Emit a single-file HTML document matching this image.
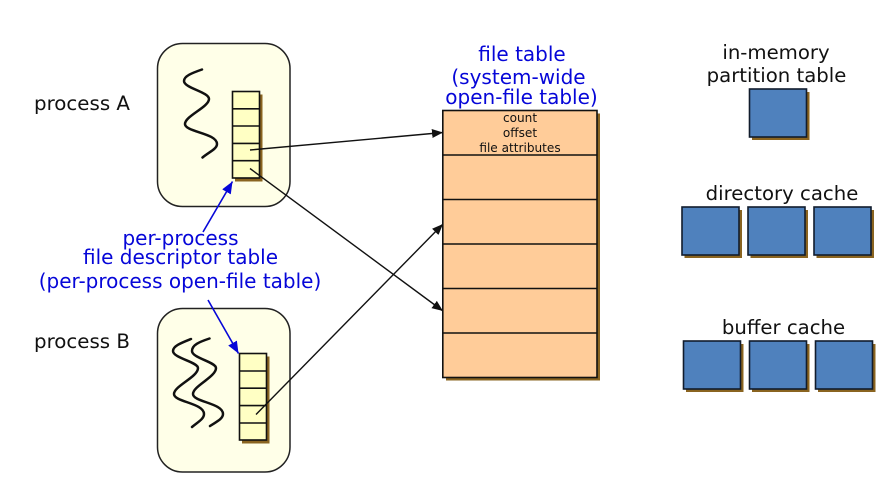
<!DOCTYPE html>
<html>
<head>
<meta charset="utf-8">
<style>
html,body{margin:0;padding:0;background:#fff;width:888px;height:490px;overflow:hidden}
svg{display:block}
text{font-family:"DejaVu Sans",sans-serif}
</style>
</head>
<body>
<svg width="888" height="490" viewBox="0 0 888 490" xmlns="http://www.w3.org/2000/svg">
<defs>
<marker id="ab" markerUnits="userSpaceOnUse" markerWidth="12" markerHeight="10" refX="11" refY="4.5" orient="auto"><path d="M0 0L11 4.5L0 9Z" fill="#111"/></marker>
<marker id="ablue" markerUnits="userSpaceOnUse" markerWidth="13" markerHeight="11" refX="12" refY="5" orient="auto"><path d="M0 0L12 5L0 10Z" fill="#0606d8"/></marker>
</defs>
<rect width="888" height="490" fill="#fff"/>

<!-- process boxes -->
<rect x="157.500" y="43.500" width="132.500" height="163" rx="25" fill="#ffffe8" stroke="#222" stroke-width="1.500"/>
<rect x="157.500" y="308.500" width="132.500" height="163.500" rx="25" fill="#ffffe8" stroke="#222" stroke-width="1.500"/>

<!-- squiggles -->
<g fill="none" stroke="#111" stroke-width="2.500" stroke-linecap="round">
<path d="M202 69.500C192 73 184 76 184 81C184 88 209 92 209 99C209 107 185 116 185 124C185 132 217 133 217 144C217 149 209 152 202.500 157.500"/>
<path d="M191 339C181 343 173 346 173 351C173 358 198 362 198 368C198 377 174 386 174 394C174 402 204 403 204 414C204 419 198 422 192 427"/>
<path d="M209.500 338.500C199 342 192 345 192 351C192 358 216 362 216 368C216 377 193 386 193 394C193 402 223 403 223 414C223 419 216 422 210 426"/>
</g>

<!-- descriptor table A -->
<rect x="235" y="94.500" width="27.500" height="87" fill="#8a6420"/>
<rect x="232.500" y="91.500" width="27" height="86.500" fill="#ffffc4" stroke="#111" stroke-width="1.600"/>
<path d="M232.500 108.800H259.500M232.500 126H259.500M232.500 143.400H259.500M232.500 160.700H259.500" stroke="#111" stroke-width="1.600"/>

<!-- descriptor table B -->
<rect x="242" y="356.500" width="27.500" height="87" fill="#8a6420"/>
<rect x="239.500" y="353.500" width="27" height="86.500" fill="#ffffc4" stroke="#111" stroke-width="1.600"/>
<path d="M239.500 371H266.500M239.500 388.200H266.500M239.500 405.600H266.500M239.500 423H266.500" stroke="#111" stroke-width="1.600"/>

<!-- file table -->
<rect x="446" y="113.500" width="154" height="267" fill="#8a6420"/>
<rect x="442.800" y="110.500" width="154.200" height="267" fill="#ffcc99" stroke="#111" stroke-width="1.600"/>
<path d="M442.800 155H597M442.800 199.500H597M442.800 244H597M442.800 288.500H597M442.800 333H597" stroke="#111" stroke-width="1.600"/>

<!-- blue squares -->
<g fill="#8a6420">
<rect x="752" y="92" width="57.500" height="48"/>
<rect x="684.500" y="210" width="57.500" height="48"/>
<rect x="750.500" y="210" width="57.500" height="48"/>
<rect x="816.500" y="210" width="57.500" height="48"/>
<rect x="686" y="344" width="57.500" height="48"/>
<rect x="752" y="344" width="57.500" height="48"/>
<rect x="818" y="344" width="57.500" height="48"/>
</g>
<g fill="#4f81bd" stroke="#111c2c" stroke-width="1.600">
<rect x="749.500" y="89" width="57" height="48"/>
<rect x="682" y="207" width="57" height="48"/>
<rect x="748" y="207" width="57" height="48"/>
<rect x="814" y="207" width="57" height="48"/>
<rect x="683.500" y="341" width="57" height="48"/>
<rect x="749.500" y="341" width="57" height="48"/>
<rect x="815.500" y="341" width="57" height="48"/>
</g>

<!-- connectors -->
<g stroke="#111" stroke-width="1.400" fill="none">
<line x1="250" y1="150" x2="443" y2="132.500" marker-end="url(#ab)"/>
<line x1="250" y1="168.500" x2="443" y2="311" marker-end="url(#ab)"/>
<line x1="256" y1="414.500" x2="443" y2="224" marker-end="url(#ab)"/>
</g>
<g stroke="#0606d8" stroke-width="1.600" fill="none">
<line x1="203" y1="232" x2="232.500" y2="181.500" marker-end="url(#ablue)"/>
<line x1="208" y1="300" x2="238.500" y2="353.500" marker-end="url(#ablue)"/>
</g>

<!-- labels -->
<g font-size="19.700" fill="#111">
<text x="34" y="110" textLength="96" lengthAdjust="spacingAndGlyphs">process A</text>
<text x="34" y="348" textLength="96" lengthAdjust="spacingAndGlyphs">process B</text>
<text x="776" y="59" text-anchor="middle">in-memory</text>
<text x="776.500" y="82" text-anchor="middle">partition table</text>
<text x="782" y="200" text-anchor="middle">directory cache</text>
<text x="783.500" y="334" text-anchor="middle">buffer cache</text>
</g>
<g font-size="20" fill="#0606d8">
<text x="522" y="61" text-anchor="middle">file table</text>
<text x="518.500" y="84" text-anchor="middle">(system-wide</text>
<text x="521.500" y="104" text-anchor="middle">open-file table)</text>
<text x="180.500" y="245" text-anchor="middle">per-process</text>
<text x="180.500" y="264" text-anchor="middle">file descriptor table</text>
<text x="180" y="288" text-anchor="middle">(per-process open-file table)</text>
</g>
<g font-size="12.100" fill="#111">
<text x="520" y="122" text-anchor="middle">count</text>
<text x="520" y="137" text-anchor="middle">offset</text>
<text x="520" y="152" text-anchor="middle">file attributes</text>
</g>
</svg>
</body>
</html>
